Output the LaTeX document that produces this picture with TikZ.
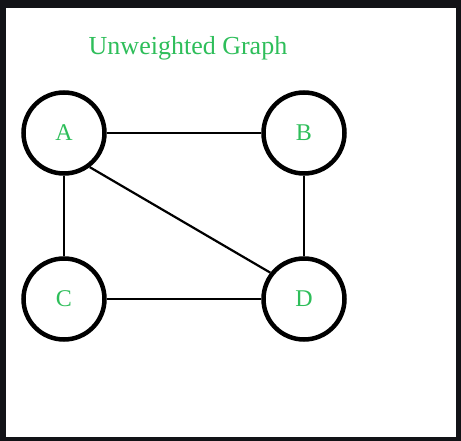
\documentclass[tikz,border=0pt]{standalone}
\usepackage{fontspec}
\setmainfont{Liberation Serif}
\usepackage{tikz}
\usetikzlibrary{positioning}
\usetikzlibrary{backgrounds}
\definecolor{frame}{RGB}{18,19,23}
\definecolor{lbl}{RGB}{46,190,90}
\tikzset{
	vert/.style = {draw, circle, line width = 4.5pt, minimum size = 81pt, inner sep = 0pt, text = lbl, font = \fontsize{24}{28}\selectfont},
	edge/.style = {line width = 2.2pt}
}
\begin{document}
\begin{tikzpicture}[x = 1pt, y = -1pt]
		\useasboundingbox (0,0) rectangle (461,441);
		\fill[frame] (0,0) rectangle (461,441);
		\fill[white] (6,8) rectangle (456,437);
		\node[text = lbl, font = \fontsize{26}{30}\selectfont] at (188,48) (title) {Unweighted Graph};
		\node[vert] at (64,133) (a) {A};
		\node[vert] at (304,133) (b) {B};
		\node[vert] at (64,299) (c) {C};
		\node[vert] at (304,299) (d) {D};
		\draw[edge] (a) to (b);
		\draw[edge] (a) to (c);
		\draw[edge] (b) to (d);
		\draw[edge] (c) to (d);
		\draw[edge] (a.-53) to (d.142);
	\end{tikzpicture}
\end{document}
